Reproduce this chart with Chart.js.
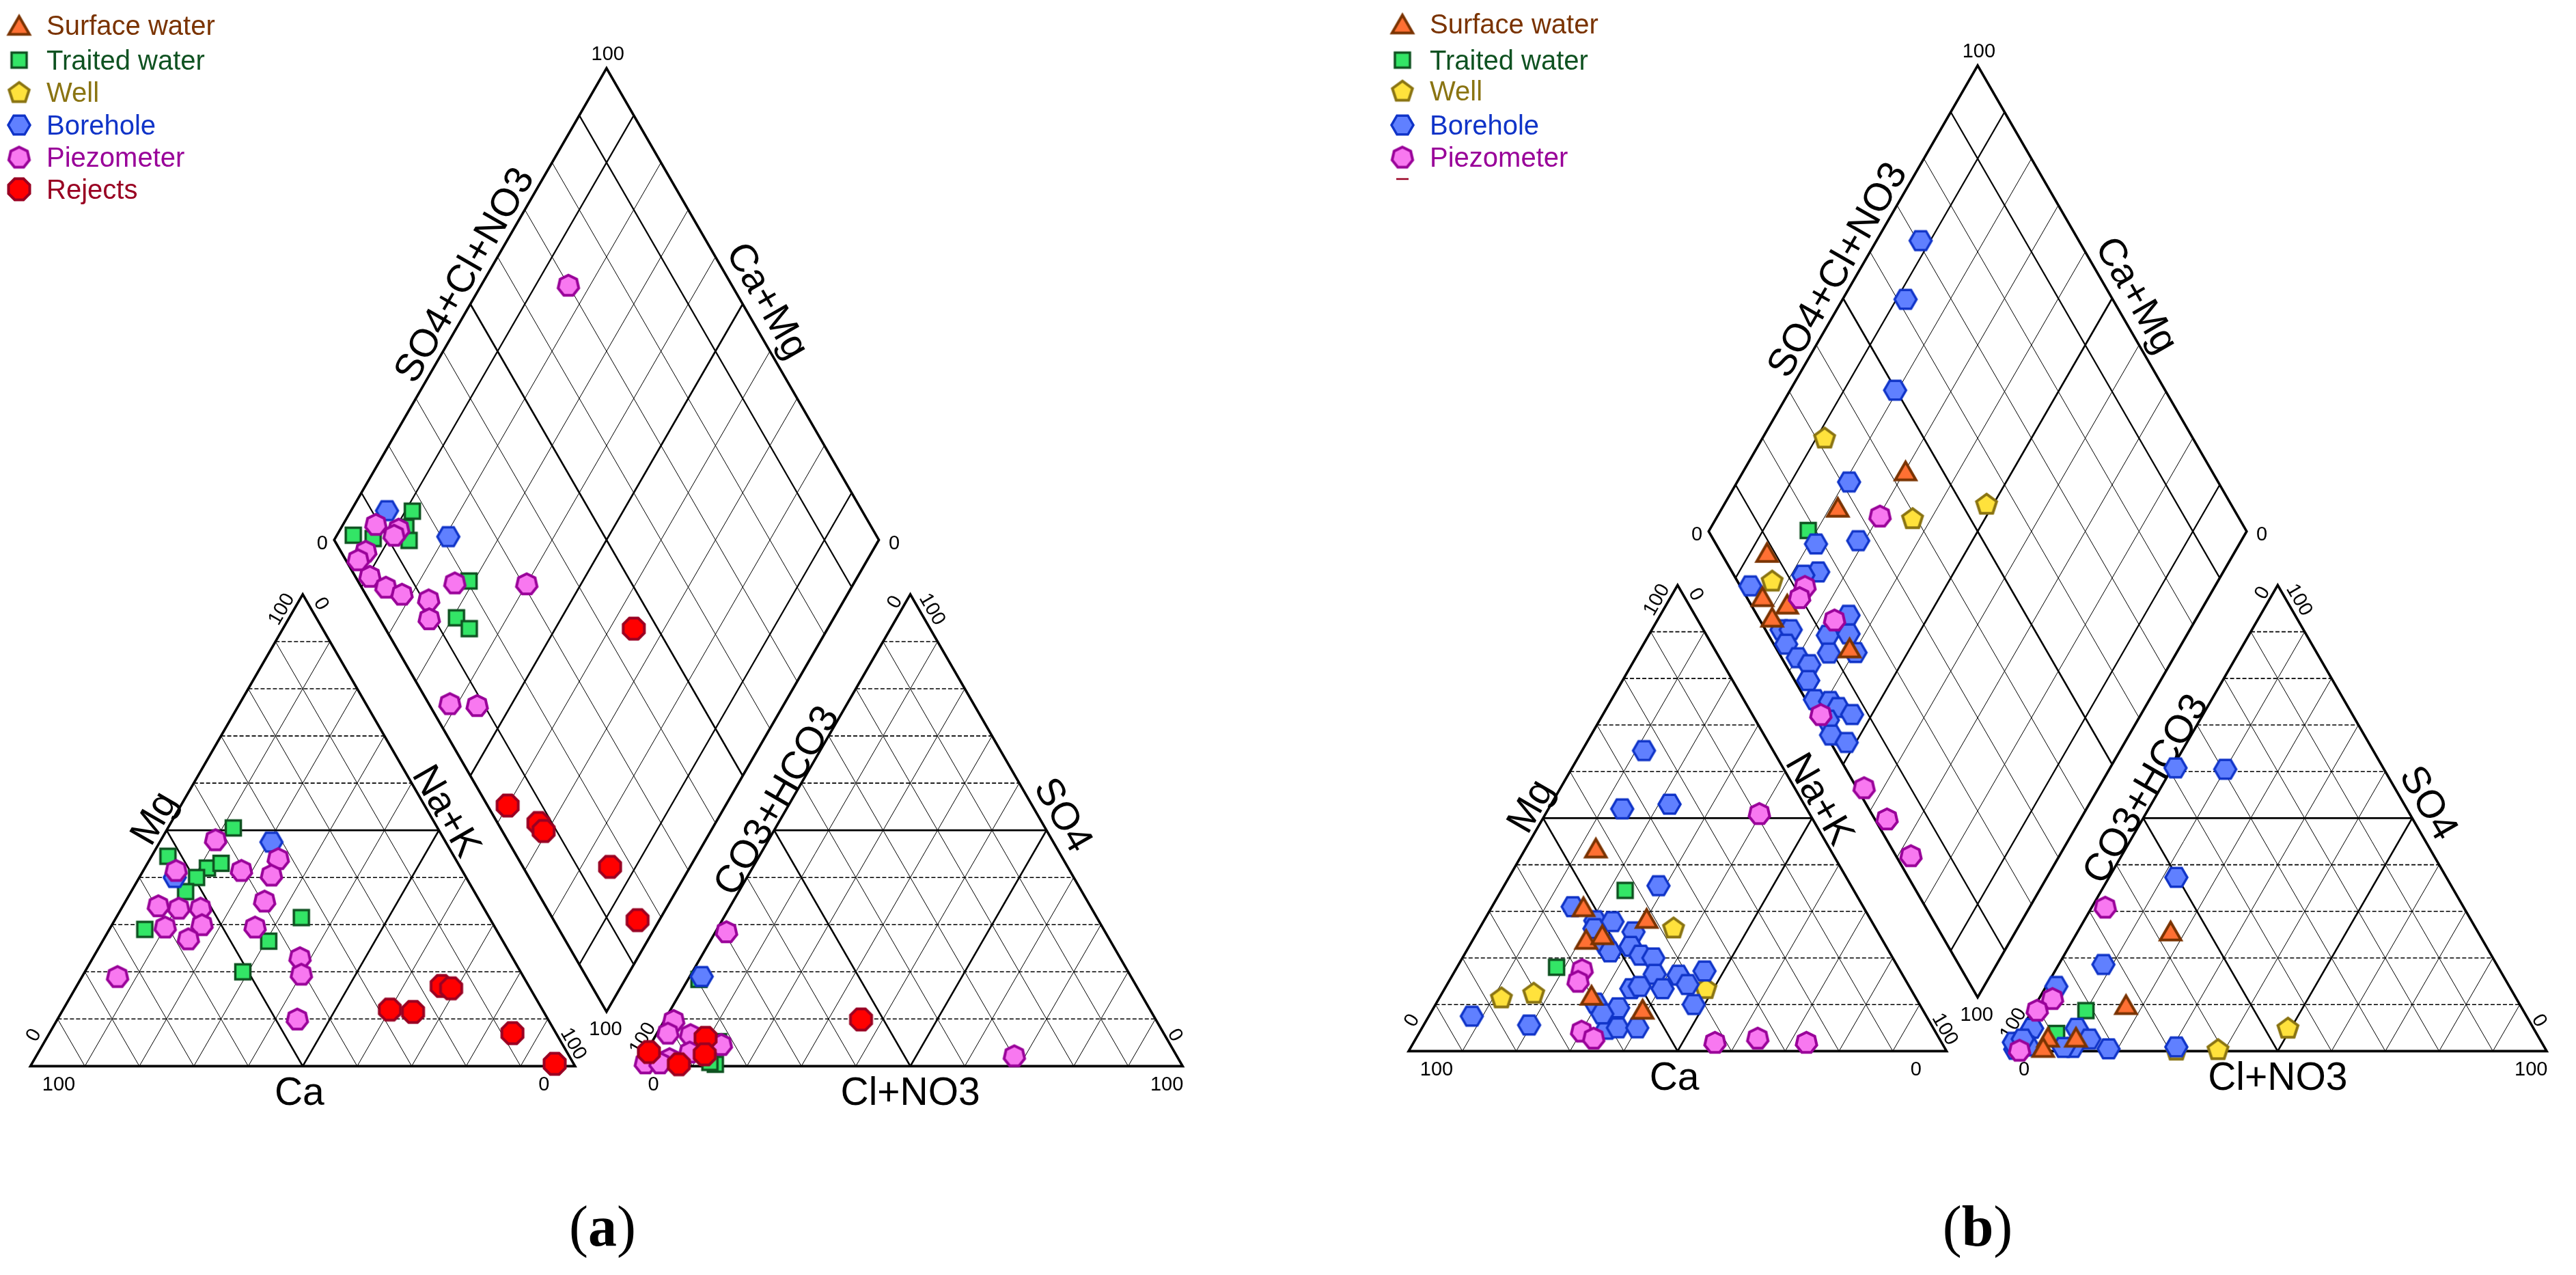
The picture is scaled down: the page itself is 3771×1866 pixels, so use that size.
<!DOCTYPE html>
<html><head><meta charset="utf-8">
<script src="https://cdn.jsdelivr.net/npm/chart.js@4.4.0/dist/chart.umd.min.js"></script>
<style>
html,body{margin:0;padding:0;background:#fff;width:3771px;height:1866px;overflow:hidden}
canvas{position:absolute;top:0}
</style></head><body>
<canvas id="ca" width="1885" height="1866" style="left:0;width:1885px;height:1866px"></canvas>
<canvas id="cb" width="1886" height="1866" style="left:1885px;width:1886px;height:1866px"></canvas>
<script>
// ---------------- DATA ----------------
const TYPES = ['Surface water', 'Traited water', 'Well', 'Borehole', 'Piezometer', 'Rejects'];
// cation triangle values: [Mg %, Na+K %]   (Ca = 100 - Mg - Na+K)
// anion triangle values:  [SO4 %, Cl+NO3 %] (CO3+HCO3 = rest)
// diamond values:         [SO4+Cl+NO3 %, Ca+Mg %]
const TICKS = ['0', '100'];

// Panel (a)
const a_cat_traited = [[50.5,12],[44.5,3],[42,11.5],[43,13.5],[40,10.5],[37,10],[29,6.5],[31.5,34],[26.5,30.5],[20,29]];
const a_cat_borehole = [[47.5,20.5],[40,6.5]];
const a_cat_piezo = [[48,10],[44,23.5],[41.5,6],[41.5,18],[40.5,24],[35,25.5],[34,6.5],[33.5,10.5],[33.5,14.5],[29.5,10],[30,16.5],[27,15.5],[29.5,26.5],[23,38],[19.5,40],[10,44],[19,6.5]];
const a_cat_rejects = [[17,67],[16.5,69],[12,60],[11.5,64.5],[7,85],[0.5,96]];

const a_an_traited = [[18.4,2],[5.2,12.2],[0.4,14],[0.8,12.8]];
const a_an_borehole = [[19,2.2]];
const a_an_piezo = [[28.5,2],[9.7,1.7],[7,2],[6.7,6.3],[4.6,13],[1.6,5],[3,8],[0.7,1],[0.7,3.7],[2.2,68]];
const a_an_rejects = [[9.9,36],[6,9.4],[3,0.5],[0.4,7.3],[2.5,11]];

const a_dia_traited = [[17.4,88.7],[14.5,88.2],[4,97],[7.3,93],[13.7,86.2],[20.4,70.9],[14.2,69.3],[15.4,65.8]];
const a_dia_borehole = [[12.8,93.4],[21.3,79.4]];
const a_dia_piezo = [[9.3,94],[13,89.3],[11.5,89.5],[4.6,93],[2.3,93.5],[2.7,89.6],[4.5,85.5],[6.7,81.8],[11,76.3],[9.1,74.2],[17.6,73.3],[30.7,60],[3.9,61.4],[8.7,56.2],[70,84]];
const a_dia_rejects = [[45.6,35.6],[3.7,40],[7.5,32.5],[7.6,30.7],[16,14.7],[15.4,4]];

// Panel (b)
const b_cat_surface = [[43.6,13],[31,17],[28.5,30],[24,21],[25,23.5],[12,28],[9,39]];
const b_cat_traited = [[34.5,23],[18,18.5]];
const b_cat_well = [[26.5,36],[12.5,17],[11.5,11.5],[13.5,48.5]];
const b_cat_borehole = [[64.5,11.5],[52,13.7],[53,22],[35.5,28.7],[7.5,8],[5.6,19.6],[31,15],[28,20.7],[27.8,24],[26.3,21.4],[25.6,29],[23,25],[21.3,26.8],[22.5,30],[20.6,32.8],[20,35.5],[16.5,37.5],[16.3,42],[17.2,46.4],[14.3,44.7],[13.4,40.5],[13.4,34.7],[10,48],[9.3,34.3],[10.3,29.6],[4.7,34.5],[5,36.4],[5,40],[13.9,36],[8,32]];
const b_cat_piezo = [[17.5,23.5],[15,24],[4.3,30],[2.8,33],[1.9,56],[2.8,63.5],[51,39.7],[1.9,73]];

const b_an_surface = [[25.8,17.2],[10,16.8],[3,5.8],[3,11],[0.8,6]];
const b_an_traited = [[8.7,10],[3.8,7]];
const b_an_well = [[5,49.4],[0.4,38.7],[0.3,31]];
const b_an_borehole = [[60.8,0.6],[60.5,10],[37.3,12.5],[18.6,8.3],[0.9,30.7],[0.5,18.3],[13.9,1.9],[4.9,1.9],[4.9,10.2],[2.6,13.7],[0.8,11.5],[0.8,9.8],[0.4,1],[1.1,3],[1.9,0],[2.6,1.3]];
const b_an_piezo = [[30.9,2.5],[11.3,2.5],[8.8,0.9],[0.2,1.9]];

const b_dia_surface = [[43.1,69.9],[26.6,78.6],[8.6,86.9],[3,83],[6.8,77.6],[2.6,79],[13.7,61.3]];
const b_dia_traited = [[18.6,81.6]];
const b_dia_well = [[31.6,88.5],[54.6,51.3],[39.3,63.5],[6.5,82.9]];
const b_dia_borehole = [[70.6,91.8],[61.5,88.3],[49.8,80.5],[31.4,79.2],[18.6,78.7],[26.8,71.2],[16,75.3],[12.9,77.7],[1.9,86.4],[17,65],[3,75.9],[4.7,74.2],[11,66.7],[15,63],[2.3,73.5],[14.3,59.7],[9.3,64.6],[3,69.9],[4.4,67],[2.5,65.5],[1.7,62.2],[4.3,59.2],[5.2,57],[7,53.7],[1.9,57.6],[0.9,55.4],[3,51.7]];
const b_dia_piezo = [[33.5,69.8],[12,76.2],[9.8,76],[13.9,67.1],[1.2,59.5],[1.4,43.6],[2.3,36],[2.8,27.6]];

// ---------------- GEOMETRY (Piper projection) ----------------
const H = Math.sqrt(3) / 2;
const G = 11.55;                 // gap between triangles (% of side)
const OXA = 100 + G;             // anion triangle left corner
const BX = 100 + G / 2, BY = G * H; // diamond bottom vertex
const cat = p => ({x: p[1] + p[0] / 2, y: p[0] * H});
const an = p => ({x: OXA + p[1] + p[0] / 2, y: p[0] * H});
const dia = p => ({x: BX + (p[0] - p[1]) / 2, y: BY + (p[0] + p[1]) * H});
const D = (s, c) => [BX + (s - c) / 2, BY + (s + c) * H];

const FONT = '"Liberation Sans", Arial, Helvetica, sans-serif';
const MARK = {
  'Surface water': {n:3, r:17.5, rot:-Math.PI/2, fill:'#FF7033', stroke:'#7A3300', lw:4, text:'#7A3300', dy:4.4},
  'Traited water': {n:4, r:15.6, rot:Math.PI/4, fill:'#33E566', stroke:'#0F5221', lw:3.5, text:'#0F5221', dy:0},
  'Well':          {n:5, r:15.5, rot:-Math.PI/2, fill:'#FFE23C', stroke:'#8A7412', lw:4, text:'#8A7412', dy:1.2},
  'Borehole':      {n:6, r:16,   rot:0, fill:'#6080FF', stroke:'#1034C8', lw:3.5, text:'#1034C8', dy:0},
  'Piezometer':    {n:7, r:15.5, rot:-Math.PI/2, fill:'#F878F0', stroke:'#990099', lw:4, text:'#990099', dy:0.8},
  'Rejects':       {n:8, r:16.8, rot:Math.PI/8, fill:'#FF0000', stroke:'#990022', lw:4, text:'#990022', dy:0}
};
function markerCanvas(m) {
  const size = Math.ceil(2 * m.r + m.lw + 4);
  const c = document.createElement('canvas');
  c.width = size; c.height = size;
  const g = c.getContext('2d');
  g.translate(size / 2, size / 2 + m.dy);
  g.beginPath();
  for (let i = 0; i < m.n; i++) {
    const a = m.rot + i * 2 * Math.PI / m.n;
    const x = m.r * Math.cos(a), y = m.r * Math.sin(a);
    if (i) g.lineTo(x, y); else g.moveTo(x, y);
  }
  g.closePath();
  g.fillStyle = m.fill; g.fill();
  g.lineWidth = m.lw; g.strokeStyle = m.stroke; g.lineJoin = 'miter'; g.stroke();
  return c;
}
const IMG = {};
TYPES.forEach(t => IMG[t] = markerCanvas(MARK[t]));

// ---------------- PANELS ----------------
const PANELS = [
  { id:'ca', pageLeft:0, w:1885, ox:28, oy:1572, k:8.12, tag:'a', tagX:882,
    legX:28, legTextX:68, legRows:[37,88,135,183,230,277], legTypes:TYPES, dash:null,
    series:{
      'Traited water': [a_cat_traited, a_an_traited, a_dia_traited],
      'Borehole': [a_cat_borehole, a_an_borehole, a_dia_borehole],
      'Piezometer': [a_cat_piezo, a_an_piezo, a_dia_piezo],
      'Rejects': [a_cat_rejects, a_an_rejects, a_dia_rejects]
    },
    order:{'Rejects':1,'Piezometer':2,'Borehole':3,'Well':4,'Traited water':5,'Surface water':6}
  },
  { id:'cb', pageLeft:1885, w:1886, ox:2048, oy:1549.6, k:8.02, tag:'b', tagX:2895,
    legX:2053, legTextX:2093, legRows:[35,88,133,183,230], legTypes:TYPES.slice(0,5),
    dash:{x1:2044, x2:2062, y:262},
    series:{
      'Surface water': [b_cat_surface, b_an_surface, b_dia_surface],
      'Traited water': [b_cat_traited, b_an_traited, b_dia_traited],
      'Well': [b_cat_well, b_an_well, b_dia_well],
      'Borehole': [b_cat_borehole, b_an_borehole, b_dia_borehole],
      'Piezometer': [b_cat_piezo, b_an_piezo, b_dia_piezo]
    },
    order:{'Piezometer':1,'Surface water':2,'Borehole':3,'Well':4,'Traited water':5,'Rejects':6}
  }
];

// tick labels and axis titles (positions in diagram units)
const TICK_POS = [
  [1, 5.2, -3.2, 0], [0, 94.3, -3.2, 0],
  [0, 0.4, 5.8, -60], [1, 45.9, 84.0, -60],
  [0, 53.6, 85.0, 60], [1, 99.9, 4.2, 60],
  [0, OXA + 2.85, -3.2, 0], [1, OXA + 97.1, -3.2, 0],
  [1, OXA + 0.65, 5.2, -60], [0, OXA + 46.95, 85.3, -60],
  [1, OXA + 54.2, 84.0, 60], [0, OXA + 98.8, 5.8, 60],
  [1, 106.0, 186.0, 0], [0, 53.6, 96.2, 0], [0, 158.6, 96.2, 0], [1, 105.6, 7.0, 0]
];
const TITLES = [
  ['Ca', 49.4, -4.6, 0], ['Mg', 22.4, 45.7, -60], ['Na+K', 76.7, 47.0, 60],
  ['Cl+NO3', OXA + 50, -4.6, 0], ['CO3+HCO3', OXA + 25.15, 48.9, -60], ['SO4', OXA + 78.35, 46.3, 60],
  ['SO4+Cl+NO3', 79.4, 145.4, -60], ['Ca+Mg', 135.6, 140.7, 60]
];

function txt(ctx, s, x, y, size, rotDeg, color, align) {
  ctx.save();
  ctx.translate(x, y);
  ctx.rotate(rotDeg * Math.PI / 180);
  ctx.font = size + 'px ' + FONT;
  ctx.fillStyle = color || '#000';
  ctx.textAlign = align || 'center';
  ctx.textBaseline = 'alphabetic';
  ctx.fillText(s, 0, size * 0.358);
  ctx.restore();
}

function makePlugin(panel) {
  return {
    id: 'piper_' + panel.tag,
    beforeDatasetsDraw(chart) {
      const ctx = chart.ctx, X = chart.scales.x, Y = chart.scales.y;
      const P = (x, y) => [X.getPixelForValue(x), Y.getPixelForValue(y)];
      const seg = (a, b, w, dash) => {
        const p = P(a[0], a[1]), q = P(b[0], b[1]);
        ctx.beginPath(); ctx.setLineDash(dash || []); ctx.lineWidth = w;
        ctx.moveTo(p[0], p[1]); ctx.lineTo(q[0], q[1]); ctx.stroke();
      };
      const poly = (pts, w) => {
        ctx.beginPath(); ctx.setLineDash([]); ctx.lineWidth = w; ctx.lineJoin = 'miter';
        pts.forEach((a, i) => { const p = P(a[0], a[1]); if (i) ctx.lineTo(p[0], p[1]); else ctx.moveTo(p[0], p[1]); });
        ctx.closePath(); ctx.stroke();
      };
      ctx.save();
      ctx.strokeStyle = '#000';
      [0, OXA].forEach(ox => {
        for (let i = 10; i < 100; i += 10) {
          const th = i === 50;
          seg([ox + i / 2, i * H], [ox + 100 - i / 2, i * H], th ? 2.6 : 1.6, th ? [] : [6, 3]);
          seg([ox + i, 0], [ox + i + (100 - i) / 2, (100 - i) * H], th ? 2.6 : 1, []);
          seg([ox + i, 0], [ox + i / 2, i * H], th ? 2.6 : 1, []);
        }
        poly([[ox, 0], [ox + 100, 0], [ox + 50, 100 * H]], 3.6);
      });
      for (let i = 10; i < 100; i += 10) {
        const w = i === 50 ? 2.6 : ((i === 10 || i === 90) ? 2.2 : 1);
        seg(D(i, 0), D(i, 100), w, []);
        seg(D(0, i), D(100, i), w, []);
      }
      poly([D(0, 0), D(100, 0), D(100, 100), D(0, 100)], 3.6);
      TICK_POS.forEach(t => { const p = P(t[1], t[2]); txt(ctx, TICKS[t[0]], p[0], p[1], 29, t[3]); });
      TITLES.forEach(t => { const p = P(t[1], t[2]); txt(ctx, t[0], p[0], p[1], 57, t[3]); });
      ctx.restore();
    },
    afterDraw(chart) {
      const ctx = chart.ctx, off = panel.pageLeft;
      ctx.save();
      panel.legTypes.forEach((t, i) => {
        const img = IMG[t], y = panel.legRows[i];
        ctx.drawImage(img, panel.legX - off - img.width / 2, y - img.height / 2);
        ctx.font = '40px ' + FONT; ctx.fillStyle = MARK[t].text;
        ctx.textAlign = 'left'; ctx.textBaseline = 'alphabetic';
        ctx.fillText(t, panel.legTextX - off, y + 14.3);
      });
      if (panel.dash) {
        ctx.beginPath(); ctx.strokeStyle = MARK['Rejects'].stroke; ctx.lineWidth = 2.5;
        ctx.moveTo(panel.dash.x1 - off, panel.dash.y); ctx.lineTo(panel.dash.x2 - off, panel.dash.y); ctx.stroke();
      }
      // sub-figure tag "(a)" / "(b)"
      const fN = '84px "Liberation Serif", "Times New Roman", serif';
      const fB = 'bold 84px "Liberation Serif", "Times New Roman", serif';
      ctx.fillStyle = '#000'; ctx.textBaseline = 'alphabetic'; ctx.textAlign = 'left';
      ctx.font = fN; const w1 = ctx.measureText('(').width, w3 = ctx.measureText(')').width;
      ctx.font = fB; const w2 = ctx.measureText(panel.tag).width;
      let x = panel.tagX - off - (w1 + w2 + w3) / 2; const yb = 1823;
      ctx.font = fN; ctx.fillText('(', x, yb); x += w1;
      ctx.font = fB; ctx.fillText(panel.tag, x, yb); x += w2;
      ctx.font = fN; ctx.fillText(')', x, yb);
      ctx.restore();
    }
  };
}

PANELS.forEach(panel => {
  const datasets = [];
  TYPES.forEach(t => {
    const s = panel.series[t];
    if (!s) return;
    datasets.push({
      label: t,
      data: [...s[0].map(cat), ...s[1].map(an), ...s[2].map(dia)],
      pointStyle: IMG[t],
      pointRadius: 16,
      showLine: false,
      order: panel.order[t]
    });
  });
  const cw = panel.w, chh = 1866;
  const localOx = panel.ox - panel.pageLeft;
  new Chart(document.getElementById(panel.id), {
    type: 'scatter',
    data: { datasets },
    options: {
      responsive: false, maintainAspectRatio: false, devicePixelRatio: 1,
      animation: false, events: [],
      layout: { padding: 0 },
      plugins: { legend: { display: false }, tooltip: { enabled: false } },
      scales: {
        x: { type: 'linear', display: false, min: -localOx / panel.k, max: (cw - localOx) / panel.k },
        y: { type: 'linear', display: false, min: -(chh - panel.oy) / panel.k, max: panel.oy / panel.k }
      }
    },
    plugins: [makePlugin(panel)]
  });
});
</script></body></html>
